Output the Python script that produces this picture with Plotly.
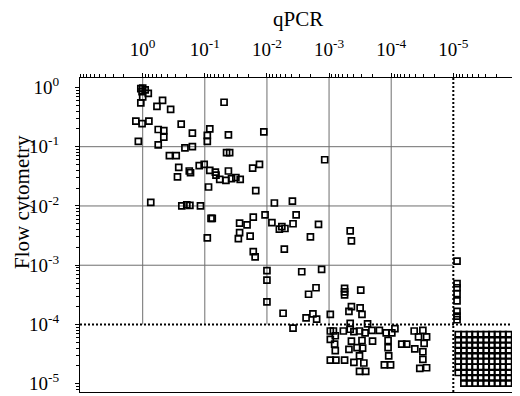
import plotly.graph_objects as go

# ---- data: log10 values ----
# samples positive by qPCR (x = log10 qPCR, y = log10 flow cytometry)
qpcr_log = [
    0.03, 0.00, -0.04, 0.01, -0.09, 0.00, 0.03, -0.32, -0.23, -0.45,
    0.11, 0.01, -0.10, -0.25, -0.34, -0.34, -0.62, -0.80, -1.08, -1.04,
    -1.04, 0.07, -0.25, -0.68, -0.80, -0.43, -0.54, -1.31, -1.95, -1.38,
    -1.35, -1.40, -0.58, -0.56, -0.75, -0.77, -0.91, -0.99, -1.08, -1.17,
    -1.18, -1.24, -1.34, -1.38, -1.43, -1.50, -1.57, -1.77, -1.88, -1.06,
    -1.82, -0.13, -0.63, -0.71, -0.76, -0.93, -2.12, -2.41, -1.10, -1.12,
    -1.04, -1.56, -1.68, -1.78, -1.97, -2.08, -2.20, -2.24, -2.29, -2.42,
    -2.47, -2.83, -1.56, -1.54, -1.73, -1.78, -1.81, -2.28, -2.70, -3.34,
    -3.36, -2.93, -2.00, -2.00, -2.00, -2.56, -2.88, -2.79, -2.67, -3.25,
    -3.25, -3.25, -3.51, -2.26, -2.63, -2.74, -2.80, -3.02, -3.36, -3.32,
    -3.50, -3.53, -3.34, -3.62, -2.42, -3.02, -3.07, -3.02, -3.10, -3.09,
    -3.10, -3.02, -3.11, -3.25, -3.23, -3.34, -3.40, -3.49, -3.58, -3.69,
    -3.81, -3.92, -4.01, -4.06, -3.36, -3.53, -3.70, -3.32, -3.45, -3.54,
    -3.49, -3.40, -3.56, -3.49, -3.59, -3.95, -3.95, -3.96, -3.89, -3.99,
    -4.17, -4.25, -4.37, -4.51, -4.44, -4.57, -4.53, -4.38, -4.51, -4.51,
    -4.46, -4.57,
]
flow_log = [
    -0.02, -0.01, -0.04, -0.07, -0.10, -0.16, -0.26, -0.22, -0.32, -0.37,
    -0.57, -0.61, -0.57, -0.71, -0.73, -0.84, -0.62, -0.77, -0.70, -0.81,
    -0.91, -0.91, -0.97, -1.02, -1.00, -1.15, -1.15, -0.25, -0.75, -0.80,
    -1.10, -1.10, -1.35, -1.51, -1.41, -1.44, -1.32, -1.30, -1.40, -1.43,
    -1.48, -1.55, -1.57, -1.41, -1.54, -1.52, -1.55, -1.36, -1.30, -1.68,
    -1.74, -1.94, -2.00, -1.98, -1.99, -2.00, -1.95, -1.92, -2.21, -2.21,
    -2.54, -2.29, -2.32, -2.19, -2.15, -2.28, -2.39, -2.35, -2.38, -2.30,
    -2.15, -2.31, -2.45, -2.55, -2.51, -2.77, -2.86, -2.73, -2.52, -2.42,
    -2.59, -1.22, -3.09, -3.25, -3.62, -3.11, -3.07, -3.38, -3.49, -3.39,
    -3.45, -3.50, -3.42, -3.81, -3.89, -3.82, -3.91, -3.83, -3.70, -3.78,
    -3.72, -3.83, -3.98, -3.99, -4.06, -4.11, -4.11, -4.25, -4.19, -4.33,
    -4.44, -4.60, -4.60, -4.60, -4.11, -4.08, -4.12, -4.11, -4.14, -4.10,
    -4.10, -4.14, -4.14, -4.07, -4.28, -4.27, -4.28, -4.42, -4.39, -4.40,
    -4.53, -4.64, -4.65, -4.79, -4.79, -4.27, -4.39, -4.53, -4.68, -4.68,
    -4.33, -4.33, -4.11, -4.10, -4.21, -4.21, -4.32, -4.41, -4.46, -4.59,
    -4.74, -4.73,
]
# qPCR-negative, flow-positive samples (plotted at the qPCR cut-off column)
negq_qpcr_log = [-5.06, -5.06, -5.06, -5.06, -5.06, -5.06, -5.06, -5.06]
negq_flow_log = [-2.93, -3.31, -3.38, -3.48, -3.60, -3.78, -3.86, -3.92]
# double-negative samples, drawn as a block of marks (columns / rows)
dn_cols_log = [-5.08, -5.17, -5.26, -5.35, -5.44, -5.53, -5.62, -5.71, -5.80, -5.89]
dn_rows_log = [-4.17, -4.26, -4.35, -4.44, -4.53, -4.62, -4.72, -4.81, -4.90, -4.99]

x_ticks = [1, 1e-1, 1e-2, 1e-3, 1e-4, 1e-5]
x_ticktext = ["10<sup>0</sup>", "10<sup>-1</sup>", "10<sup>-2</sup>",
              "10<sup>-3</sup>", "10<sup>-4</sup>", "10<sup>-5</sup>"]
y_ticks = [1, 1e-1, 1e-2, 1e-3, 1e-4, 1e-5]
y_ticktext = x_ticktext

x_range_log = [1.009, -6.009]
y_range_log = [-5.139, 0.159]

# ---- build ----
dn_x, dn_y = [], []
for ri, r in enumerate(dn_rows_log):
    for ci, c in enumerate(dn_cols_log):
        if ri >= 8 and ci == 0:
            continue
        dn_x.append(c)
        dn_y.append(r)

all_x = qpcr_log + negq_qpcr_log + dn_x
all_y = flow_log + negq_flow_log + dn_y

FONT = "Liberation Serif, Times New Roman, serif"
xl, xr = 10 ** x_range_log[0], 10 ** x_range_log[1]
yb, yt = 10 ** y_range_log[0], 10 ** y_range_log[1]

fig = go.Figure()

# grid (upper-left quadrant only)
gx, gy = [], []
for v in [1, 1e-1, 1e-2, 1e-3, 1e-4]:
    gx += [v, v, None]
    gy += [1e-4, yt, None]
for v in [1e-1, 1e-2, 1e-3]:
    gx += [xl, 1e-5, None]
    gy += [v, v, None]
fig.add_trace(go.Scatter(x=gx, y=gy, mode="lines",
                         line=dict(color="#6e6e6e", width=1),
                         hoverinfo="skip", showlegend=False))

# dotted cut-off lines
fig.add_trace(go.Scatter(x=[1e-5, 1e-5, None, xl, xr], y=[yb, yt, None, 1e-4, 1e-4],
                         mode="lines", line=dict(color="black", width=2, dash="2px,2px"),
                         hoverinfo="skip", showlegend=False, cliponaxis=False))

fig.add_trace(go.Scatter(
    x=[10 ** v for v in all_x], y=[10 ** v for v in all_y], mode="markers",
    marker=dict(symbol="square-open", size=6, color="black",
                line=dict(width=1.7, color="black")),
    showlegend=False))

axis_common = dict(type="log", showline=True, linecolor="black", linewidth=1.2,
                   mirror=True, ticks="outside", ticklen=4, tickwidth=1,
                   tickcolor="black", showgrid=False, zeroline=False,
                   automargin=False, tickmode="array",
                   tickfont=dict(family=FONT, size=19, color="black"),
                   minor=dict(ticks="outside", ticklen=3, tickcolor="black",
                              showgrid=False, dtick="D1"))

fig.update_xaxes(**axis_common, range=x_range_log, side="top",
                 tickvals=x_ticks, ticktext=x_ticktext, ticklabelstandoff=9)
fig.update_yaxes(**axis_common, range=y_range_log,
                 tickvals=y_ticks, ticktext=y_ticktext, ticklabelstandoff=12)

# the page is shown with the browser's default 8px body margin,
# so the figure is sized/offset to land on the same window pixels
fig.update_layout(
    width=512, height=388,
    margin=dict(l=72, r=4, t=70, b=4),
    paper_bgcolor="white", plot_bgcolor="white",
    font=dict(family=FONT, color="black"),
    annotations=[
        dict(text="qPCR", xref="paper", yref="paper", x=0.5, y=1 + (78 - 19) / 314,
             xanchor="center", yanchor="middle", showarrow=False,
             font=dict(family=FONT, size=21, color="black")),
        dict(text="Flow cytometry", xref="paper", yref="paper",
             x=(22 - 80) / 436, y=(392 - 202) / 314, textangle=-90,
             xanchor="center", yanchor="middle", showarrow=False,
             font=dict(family=FONT, size=21, color="black")),
    ],
)

fig.write_html("out.html")
